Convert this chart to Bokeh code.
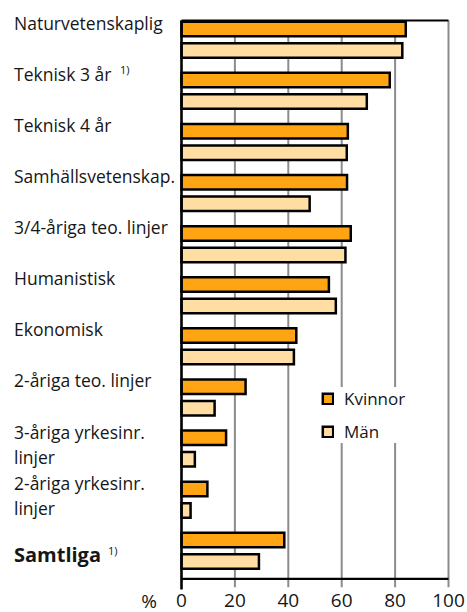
import numpy as np
from bokeh.plotting import figure
from bokeh.models import Range1d, Legend, LegendItem
from bokeh.core.properties import value
from bokeh.embed import file_html
from bokeh.resources import INLINE

# ---------------- data ----------------
categories = [
    "Naturvetenskaplig",
    "Teknisk 3 år",
    "Teknisk 4 år",
    "Samhällsvetenskap.",
    "3/4-åriga teo. linjer",
    "Humanistisk",
    "Ekonomisk",
    "2-åriga teo. linjer",
    "3-åriga yrkesinr.\nlinjer",
    "2-åriga yrkesinr.\nlinjer",
    "Samtliga",
]
footnotes = ["", "1)", "", "", "", "", "", "", "", "", "1)"]
kvinnor = [84.0, 78.0, 62.3, 62.0, 63.4, 55.2, 43.0, 24.0, 16.7, 9.7, 38.5]
man = [82.7, 69.4, 61.9, 48.0, 61.4, 57.8, 42.1, 12.4, 5.0, 3.4, 29.0]
ticks = [0, 20, 40, 60, 80, 100]
tick_labels = ["0", "20", "40", "60", "80", "100"]
unit_label = "%"
series_names = ["Kvinnor", "Män"]

# ---------------- layout (page pixels) ----------------
W, H = 467, 612
X0_PX = 181.0      # page x of value 0
X_SCALE = 2.67     # px per percent
Y0_PX = 28.5       # page y of the first Kvinnor bar centre
PITCH = 51.1       # px per category
PAIR_GAP = 21.5    # px between Kvinnor and Män bar centres
BAR_PX = 14.5      # bar path height in px
TOP_PX = 20.0
AXIS_PX = 578.3
GRID_END_PX = 586.7
LEFT_END_PX = 589.0
LABEL_X_PX = 13.5
LABEL_FS = 17.5
SUM_FS = 20.0
LINE_PX = 25.0     # line pitch of two-line labels
TICK_MID_PX = 600.0
TICK_FS = 19.0
UNIT_X_PX = 148.5
NOTE_DX_PX = [0, 106, 0, 0, 0, 0, 0, 0, 0, 0, 94]
NOTE_DY_PX = -11.0
MID = 0.36         # cap-centre above baseline, in em

ORANGE = "#FFA514"
LIGHT = "#FFDDA3"
GRID = "#8C8C8C"
TEXT = "#161616"
FONT = value("Open Sans")


def xd(px):
    return (px - X0_PX) / X_SCALE


def yd(px):
    return (px - Y0_PX) / PITCH


n = len(categories)
idx = np.arange(n, dtype=float)
yk = idx
ym = idx + PAIR_GAP / PITCH
summary = [c == "Samtliga" for c in categories]

p = figure(
    width=W, height=H,
    x_range=Range1d(xd(0), xd(W)),
    y_range=Range1d(yd(H), yd(0)),
    output_backend="svg", toolbar_location=None,
    x_axis_location=None, y_axis_location=None,
    min_border=0, outline_line_color=None,
)
p.xgrid.visible = False
p.ygrid.visible = False
p.background_fill_color = "white"

# vertical grid lines (20..100)
gx = ticks[1:]
p.segment(x0=gx, y0=[yd(TOP_PX)] * len(gx), x1=gx, y1=[yd(GRID_END_PX)] * len(gx),
          line_color=GRID, line_width=2)

# bars
bh = BAR_PX / PITCH
rk = p.hbar(y=yk, left=0, right=kvinnor, height=bh, fill_color=ORANGE,
            line_color="black", line_width=2.5, line_join="miter")
rm = p.hbar(y=ym, left=0, right=man, height=bh, fill_color=LIGHT,
            line_color="black", line_width=2.5, line_join="miter")

# frame lines
p.segment(x0=[0, 0], y0=[yd(TOP_PX), yd(AXIS_PX)], x1=[ticks[-1], ticks[-1]],
          y1=[yd(TOP_PX), yd(AXIS_PX)], line_color="black", line_width=2.2)
p.segment(x0=[0], y0=[yd(TOP_PX)], x1=[0], y1=[yd(LEFT_END_PX)],
          line_color="black", line_width=2.6)

# category labels, one text row per line (baseline at bar centre)
lab_base = [ym[i] if summary[i] else yk[i] for i in range(n)]
lx, ly, lt, ls, lz = [], [], [], [], []
for i, c in enumerate(categories):
    fs = SUM_FS if summary[i] else LABEL_FS
    for j, line in enumerate(c.split("\n")):
        lx.append(xd(LABEL_X_PX))
        ly.append(lab_base[i] + (j * LINE_PX - MID * fs) / PITCH)
        lt.append(line)
        ls.append("bold" if summary[i] else "normal")
        lz.append(f"{fs}px")
p.text(x=lx, y=ly, text=lt, text_font=FONT, text_font_size=lz,
       text_font_style=ls, text_color=TEXT, text_align="left",
       text_baseline="middle")

# footnote marks
ni = [i for i in range(n) if footnotes[i]]
p.text(x=[xd(LABEL_X_PX + NOTE_DX_PX[i]) for i in ni],
       y=[lab_base[i] + NOTE_DY_PX / PITCH for i in ni],
       text=[footnotes[i] for i in ni], text_font=FONT,
       text_font_size=value("11px"), text_color=TEXT,
       text_align="left", text_baseline="middle")

# tick labels
p.text(x=ticks, y=[yd(TICK_MID_PX)] * len(ticks), text=tick_labels,
       text_font=FONT, text_font_size=value(f"{TICK_FS}px"), text_color=TEXT,
       text_align="center", text_baseline="middle")
p.text(x=[xd(UNIT_X_PX)], y=[yd(TICK_MID_PX)], text=[unit_label],
       text_font=FONT, text_font_size=value(f"{TICK_FS}px"), text_color=TEXT,
       text_align="center", text_baseline="middle")

legend = Legend(
    items=[LegendItem(label=series_names[0], renderers=[rk]),
           LegendItem(label=series_names[1], renderers=[rm])],
    location=(321, 169), orientation="vertical",
    background_fill_color="white", background_fill_alpha=1.0,
    border_line_color=None, margin=0, padding=15, spacing=10,
    glyph_width=13, glyph_height=13, label_height=22, label_standoff=10,
    label_text_font="Open Sans", label_text_font_size="17px",
    label_text_color=TEXT,
)
p.add_layout(legend)

open("out.html", "w").write(file_html(p, INLINE))
